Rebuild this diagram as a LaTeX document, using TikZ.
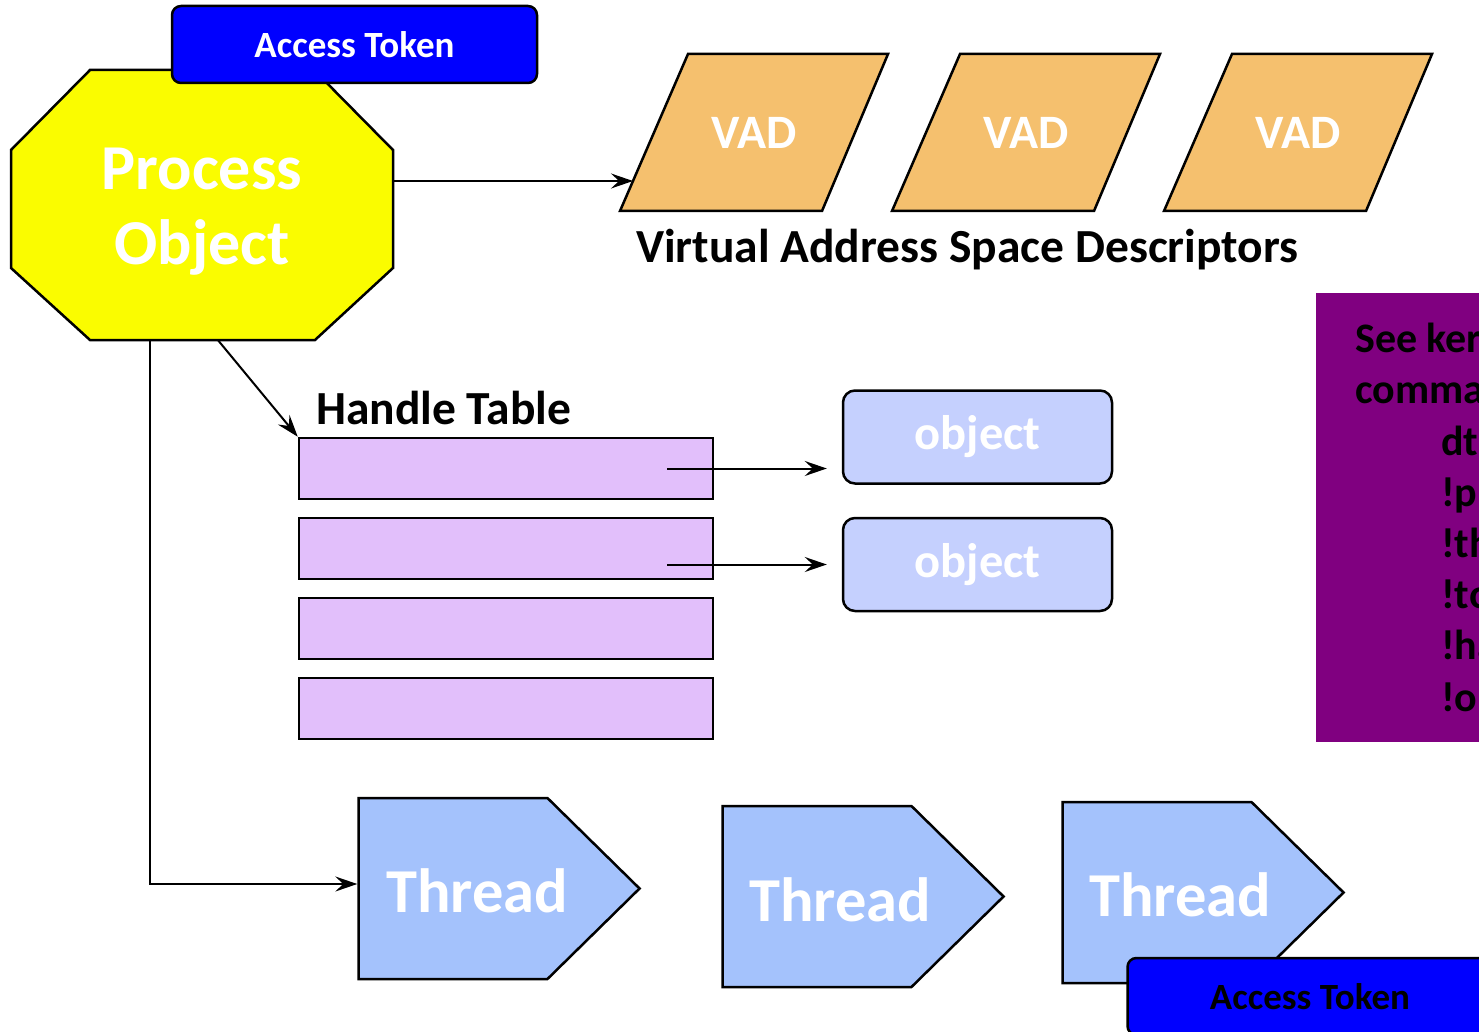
\documentclass[tikz,border=0pt]{standalone}
\usepackage{fontspec}
\setmainfont{Carlito}
\usetikzlibrary{positioning, arrows.meta, calc, shapes.symbols}

\definecolor{tokblue}{RGB}{0,0,255}
\definecolor{procyel}{RGB}{250,252,0}
\definecolor{vadorange}{RGB}{245,192,110}
\definecolor{rowlilac}{RGB}{226,191,251}
\definecolor{objblue}{RGB}{197,208,254}
\definecolor{thrblue}{RGB}{164,194,252}
\definecolor{dbgpurple}{RGB}{128,0,128}

\begin{document}
\begin{tikzpicture}[x=1pt, y=-1pt,
    outl/.style={draw=black, line width=2.5pt},
    token/.style={outl, fill=tokblue, rounded corners=9pt, minimum width=365pt, minimum height=77pt, inner sep=0pt, font=\bfseries\fontsize{37}{42}\selectfont},
    octa/.style={minimum width=382pt, minimum height=256pt, inner sep=0pt, align=center, text=white, font=\bfseries\fontsize{64}{75}\selectfont},
    vadtxt/.style={minimum width=200pt, minimum height=157pt, inner sep=0pt, text=white, font=\bfseries\fontsize{48}{54}\selectfont},
    hrow/.style={outl, fill=rowlilac, minimum width=414pt, minimum height=61pt, inner sep=0pt},
    objbox/.style={outl, fill=objblue, rounded corners=12pt, minimum width=269pt, minimum height=93pt, inner sep=0pt, text=white, font=\bfseries\fontsize{48.5}{54}\selectfont},
    thread/.style={outl, fill=thrblue, signal, signal to=east, signal pointer angle=89, minimum width=281pt, minimum height=181pt, inner sep=0pt},
    thrtxt/.style={anchor=base west, inner sep=0pt, text=white, font=\bfseries\fontsize{62.5}{70}\selectfont},
    lbl/.style={anchor=base west, inner sep=0pt, font=\bfseries\fontsize{47.5}{54}\selectfont},
    ptr/.style={-{Stealth[length=22pt, width=15pt, inset=8pt]}, line width=2pt}
]
\useasboundingbox (0,0) rectangle (1479,1032);
\clip (0,0) rectangle (1479,1032);

% Process object (octagon) and its token
\draw[outl, fill=procyel] (90,70) -- (314,70) -- (393,150) -- (393,268) -- (315,340)
    -- (90,340) -- (11,268) -- (11,150) -- cycle;
\node[octa] (proc) at (202,212) {Process\\Object};
\node[token, text=white] (tok) at (354.5,44.5) {Access Token};

% Virtual address descriptors
\foreach \i/\x in {1/620, 2/892, 3/1164} {
    \draw[outl, fill=vadorange] (\x,211) -- ++(202,0) -- ++(66,-157) -- ++(-200,0) -- cycle;
    \node[vadtxt] (vad\i) at (\x+134,132.5) {VAD};
}
\node[lbl] (vadcap) at (636,262) {Virtual Address Space Descriptors};

% Debugger hint box
\node[fill=dbgpurple, minimum width=300pt, minimum height=449pt, anchor=north west] (dbg) at (1316,293) {};
\node[lbl, align=left, font=\bfseries\fontsize{42}{51.2}\selectfont] (dbgtxt) at (1355,711)
    {See kernel debugger\\commands:\\\hspace*{86pt}dt\\\hspace*{86pt}!process\\\hspace*{86pt}!thread\\\hspace*{86pt}!token\\\hspace*{86pt}!handle\\\hspace*{86pt}!object};

% Handle table
\node[lbl] (htab) at (316,424) {Handle Table};
\foreach \i in {1,...,4}
    \node[hrow] (r\i) at (506,388.5+80*\i) {};
\node[objbox] (obj1) at (977.5,437) {object};
\node[objbox] (obj2) at (977.5,564.5) {object};

% Threads
\node[thread] (th1) at (453,888.5) {};
\node[thread] (th2) at (817,896.5) {};
\node[thread] (th3) at (1157,892.5) {};
\node[thrtxt] (th1txt) at (386,912) {Thread};
\node[thrtxt] (th2txt) at (749,921) {Thread};
\node[thrtxt] (th3txt) at (1089,916) {Thread};
\node[token] (tok2) at (1310,996.5) {Access Token};

% Connectors
\coordinate (vin) at ($(vad1)+(-121,48.5)$);
\draw[ptr] (proc.east |- vin) -- (vin);
\draw[ptr] ([xshift=16pt]proc.south) -- (r1.north west);
\draw[ptr] ([xshift=-52pt]proc.south) |- ([yshift=4.5pt]th1.west);
\draw[ptr] ([xshift=-47pt]r1.east) -- ([xshift=-15pt]r1.east -| obj1.west);
\draw[ptr] ([xshift=-47pt]r2.east |- obj2.west) -- ([xshift=-15pt]obj2.west);

\end{tikzpicture}
\end{document}
